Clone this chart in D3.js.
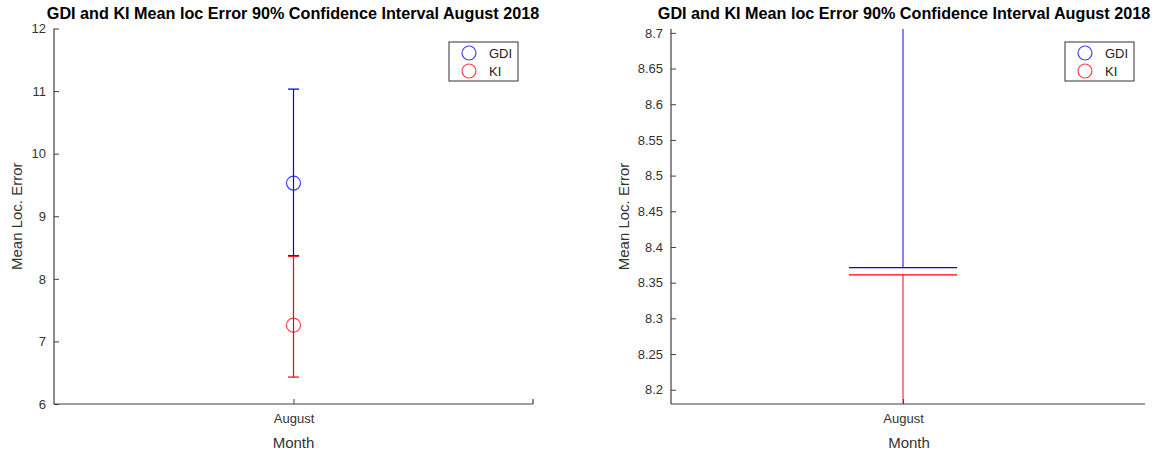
<!DOCTYPE html>
<html><head><meta charset="utf-8">
<script src="https://cdn.jsdelivr.net/npm/d3@7"></script>
<style>
body{margin:0;background:#fff;}
svg{font-family:"Liberation Sans",Arial,Helvetica,sans-serif;}
</style></head>
<body>
<svg id="c" width="1166" height="455"></svg>
<script>
const categories = ["August"];
const seriesNames = ["GDI", "KI"];
const seriesColors = ["#0000ff", "#ff0000"];
const gdiMean = [9.53];
const gdiLower = [8.371];
const gdiUpper = [11.03];
const kiMean = [7.26];
const kiLower = [6.43];
const kiUpper = [8.361];
const leftTicks = [6, 7, 8, 9, 10, 11, 12];
const rightTicks = [8.2, 8.25, 8.3, 8.35, 8.4, 8.45, 8.5, 8.55, 8.6, 8.65, 8.7];
const titleText = "GDI and KI Mean loc Error 90% Confidence Interval August 2018";

const series = [
  {name: seriesNames[0], color: seriesColors[0], mean: gdiMean, lo: gdiLower, hi: gdiUpper},
  {name: seriesNames[1], color: seriesColors[1], mean: kiMean, lo: kiLower, hi: kiUpper}
];

const svg = d3.select("#c");
const axisColor = "#404040";

function panel(cfg) {
  const g = svg.append("g");
  const x = d3.scalePoint().domain(categories).range([cfg.x0, cfg.xr]).padding(0.5);
  const y = d3.scaleLinear().domain(cfg.yDomain).range([cfg.y1, cfg.y0]);
  const clipId = "clip" + cfg.id;
  svg.append("clipPath").attr("id", clipId).append("rect")
    .attr("x", cfg.x0).attr("y", cfg.y0).attr("width", cfg.x1 - cfg.x0).attr("height", cfg.y1 - cfg.y0);

  const ya = d3.axisLeft(y).tickValues(cfg.ticks).tickSize(-5).tickPadding(8)
    .tickFormat(d => d3.format("")(+d.toFixed(2)));
  const yg = g.append("g").attr("transform", `translate(${cfg.x0},0)`).call(ya);
  yg.select(".domain").attr("d", `M0,${cfg.y1}V${cfg.y0}`);
  const xa = d3.axisBottom(x).tickSize(-5).tickPadding(10);
  const xg = g.append("g").attr("transform", `translate(0,${cfg.y1})`).call(xa);
  xg.select(".domain").attr("d", `M${cfg.x0},0H${cfg.x1}` + (cfg.endTick ? `M${cfg.x1},0V-5` : ""));
  [yg, xg].forEach(a => {
    a.selectAll(".domain").attr("stroke", axisColor).attr("stroke-width", 1.2);
    a.selectAll(".tick line").attr("stroke", axisColor);
    a.selectAll("text").attr("fill", "#333").attr("font-size", 13).attr("font-family", '"Liberation Sans",Arial,sans-serif');
  });

  const plot = g.append("g").attr("clip-path", `url(#${clipId})`);
  series.forEach(s => {
    categories.forEach((c, i) => {
      const cx = x(c);
      plot.append("line").attr("x1", cx).attr("x2", cx).attr("y1", y(s.lo[i])).attr("y2", y(s.hi[i]))
        .attr("stroke", s.color).attr("stroke-width", cfg.lineWidth).attr("stroke-opacity", cfg.lineOpacity);
      [s.lo[i], s.hi[i]].forEach(v => {
        plot.append("line").attr("x1", cx - cfg.cap).attr("x2", cx + cfg.cap).attr("y1", y(v)).attr("y2", y(v))
          .attr("stroke", s.color).attr("stroke-width", 1.2);
      });
      plot.append("circle").attr("cx", cx).attr("cy", y(s.mean[i])).attr("r", 7)
        .attr("fill", "none").attr("stroke", s.color).attr("stroke-width", 1.2).attr("stroke-opacity", 0.75);
    });
  });

  g.append("text").attr("x", cfg.titleX).attr("y", 19).attr("text-anchor", "middle")
    .attr("font-weight", "bold").attr("font-size", 16.2).attr("fill", "#000").text(titleText);
  g.append("text").attr("x", cfg.monthX).attr("y", 448).attr("text-anchor", "middle")
    .attr("font-size", 15).attr("fill", "#333").text("Month");
  g.append("text").attr("transform", `translate(${cfg.ylabX},${(cfg.y0 + cfg.y1) / 2}) rotate(-90)`)
    .attr("text-anchor", "middle").attr("font-size", 15).attr("fill", "#333").text("Mean Loc. Error");

  const lg = g.append("g").attr("transform", `translate(${cfg.legX},42)`);
  lg.append("rect").attr("x", 0).attr("y", 0).attr("width", 69).attr("height", 39)
    .attr("fill", "#fff").attr("stroke", "#333").attr("stroke-width", 1);
  series.forEach((s, i) => {
    lg.append("circle").attr("cx", 20).attr("cy", 11 + i * 18).attr("r", 7)
      .attr("fill", "none").attr("stroke", s.color).attr("stroke-width", 1.2).attr("stroke-opacity", 0.75);
    lg.append("text").attr("x", 40).attr("y", 15.5 + i * 18).attr("font-size", 13).attr("fill", "#222").text(s.name);
  });
}

panel({id: "L", x0: 54, x1: 533, xr: 533, y0: 28.5, y1: 404, yDomain: [6, 12], ticks: leftTicks, cap: 5.5,
  ylabX: 22, legX: 449, titleX: 293, monthX: 293.5, endTick: true, lineOpacity: 1, lineWidth: 1.2});
panel({id: "R", x0: 671, x1: 1145, xr: 1135, y0: 29, y1: 404, yDomain: [8.18, 8.7054], ticks: rightTicks, cap: 54,
  ylabX: 629, legX: 1065, titleX: 904, monthX: 909, endTick: false, lineOpacity: 0.65, lineWidth: 1.5});
</script>
</body></html>
